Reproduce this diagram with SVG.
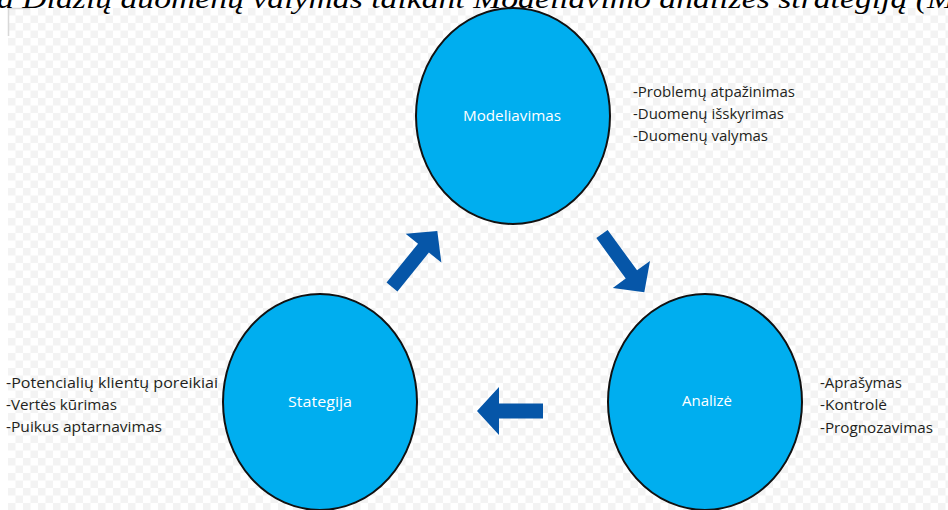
<svg xmlns="http://www.w3.org/2000/svg" width="948" height="510" viewBox="0 0 948 510">
  <style>
    .node { fill: #00aeef; stroke: #111; stroke-width: 2; }
    .label { font-family: "Open Sans", "Noto Sans", sans-serif; font-size: 15px; fill: #ffffff; text-anchor: middle; }
    .note { font-family: "Open Sans", "Noto Sans", sans-serif; font-size: 15px; fill: #231f20; }
    .arrow { fill: #0656a8; }
    .caption { font-family: "Liberation Serif", serif; font-style: italic; font-size: 27px; fill: #000; }
  </style>
  <defs>
    <pattern id="checker" patternUnits="userSpaceOnUse" x="8" y="8" width="15" height="15">
      <rect width="15" height="15" fill="#ffffff"/>
      <rect width="7.5" height="7.5" fill="#f3f3f3"/>
      <rect x="7.5" y="7.5" width="7.5" height="7.5" fill="#f3f3f3"/>
    </pattern>
    <polygon id="arrowShort" points="0,-7.5 44,-7.5 44,-24 66,0 44,24 44,7.5 0,7.5"/>
    <polygon id="arrowLong" points="0,-7 50,-7 50,-23 72,0 50,23 50,7 0,7"/>
  </defs>

  <!-- page background -->
  <rect width="948" height="510" fill="#ffffff"/>
  <rect x="8" y="8" width="940" height="502" fill="url(#checker)"/>
  <path d="M8.5,36 V8.5 H30" fill="none" stroke="#d8d8d8" stroke-width="1.5"/>

  <!-- caption line, cut at the top edge -->
  <text class="caption" x="-3" y="7.5" textLength="958" lengthAdjust="spacingAndGlyphs">a Didžių duomenų valymas taikant Modeliavimo analizės strategiją (M</text>

  <!-- cycle connectors -->
  <g id="connectors">
    <use href="#arrowLong" class="arrow" transform="translate(392,287) rotate(-51)"/>
    <use href="#arrowLong" class="arrow" transform="translate(602,234) rotate(54)"/>
    <use href="#arrowShort" class="arrow" transform="translate(543,411) rotate(180)"/>
  </g>

  <g id="modeliavimas">
    <ellipse class="node" cx="513" cy="116" rx="97" ry="108"/>
    <text class="label" x="512" y="121" textLength="98" lengthAdjust="spacingAndGlyphs">Modeliavimas</text>
    <text class="note" x="633" y="97" textLength="162" lengthAdjust="spacingAndGlyphs">-Problemų atpažinimas</text>
    <text class="note" x="633" y="119" textLength="151" lengthAdjust="spacingAndGlyphs">-Duomenų išskyrimas</text>
    <text class="note" x="633" y="141" textLength="135" lengthAdjust="spacingAndGlyphs">-Duomenų valymas</text>
  </g>

  <g id="analize">
    <ellipse class="node" cx="705" cy="402" rx="97" ry="108"/>
    <text class="label" x="707" y="406" textLength="50" lengthAdjust="spacingAndGlyphs">Analizė</text>
    <text class="note" x="820" y="388" textLength="82" lengthAdjust="spacingAndGlyphs">-Aprašymas</text>
    <text class="note" x="820" y="410" textLength="67" lengthAdjust="spacingAndGlyphs">-Kontrolė</text>
    <text class="note" x="820" y="433" textLength="113" lengthAdjust="spacingAndGlyphs">-Prognozavimas</text>
  </g>

  <g id="stategija">
    <ellipse class="node" cx="320" cy="402" rx="97" ry="108"/>
    <text class="label" x="320" y="407" textLength="64" lengthAdjust="spacingAndGlyphs">Stategija</text>
    <text class="note" x="6" y="388" textLength="212" lengthAdjust="spacingAndGlyphs">-Potencialių klientų poreikiai</text>
    <text class="note" x="6" y="410" textLength="111" lengthAdjust="spacingAndGlyphs">-Vertės kūrimas</text>
    <text class="note" x="6" y="432" textLength="156" lengthAdjust="spacingAndGlyphs">-Puikus aptarnavimas</text>
  </g>
</svg>
